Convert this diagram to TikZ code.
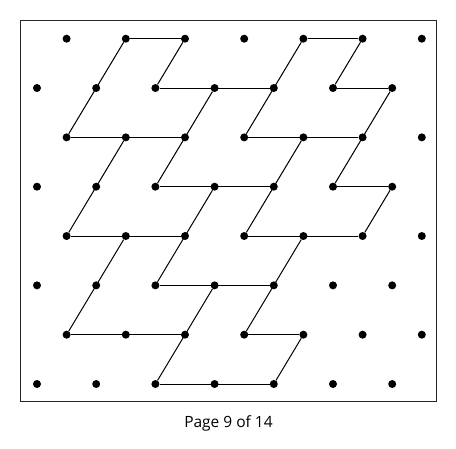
\documentclass[tikz,border=0pt]{standalone}
\usepackage{fontspec}
\setsansfont{Open Sans}
\usepackage{tikz}

\begin{document}
\begin{tikzpicture}[
  x=1pt, y=-1pt,
  dot/.style={circle, fill=black, inner sep=0pt, minimum size=8pt},
  seg/.style={line width=1pt, draw=black},
  frame/.style={draw=black!85, line width=1pt},
  caption/.style={font=\sffamily\fontsize{15.5}{18}\selectfont, inner sep=0pt}
]
\useasboundingbox (0,0) rectangle (456,448);

\draw[frame] (20,20.5) rectangle (436.5,401);

% lattice of dots, every other column per row
\foreach \j in {0,...,7}{
  \foreach \i in {0,...,13}{
    \pgfmathtruncatemacro{\odd}{mod(\i+\j,2)}
    \ifnum\odd=1
      \node[dot] (d-\i-\j) at ({37+29.6*\i},{38.7+49.33*\j}) {};
    \fi
  }
}

% horizontal runs
\foreach \a/\b/\j in {3/5/0, 9/11/0, 4/8/1, 10/12/1, 1/5/2, 7/11/2,
    4/8/3, 10/12/3, 1/5/4, 7/11/4, 4/8/5, 1/5/6, 7/9/6, 4/8/7}
  \draw[seg] (d-\a-\j) -- (d-\b-\j);

% slanted runs
\foreach \a/\j/\b/\k in {3/0/1/2, 5/0/4/1, 9/0/7/2, 11/0/10/1, 6/1/4/3,
    12/1/10/3, 3/2/1/4, 6/3/4/5, 9/2/7/4, 12/3/11/4, 3/4/1/6, 6/5/4/7,
    9/4/7/6, 9/6/8/7}
  \draw[seg] (d-\a-\j) -- (d-\b-\k);

\node[caption] (page) at (228.5,423) {Page 9 of 14};

\end{tikzpicture}
\end{document}
